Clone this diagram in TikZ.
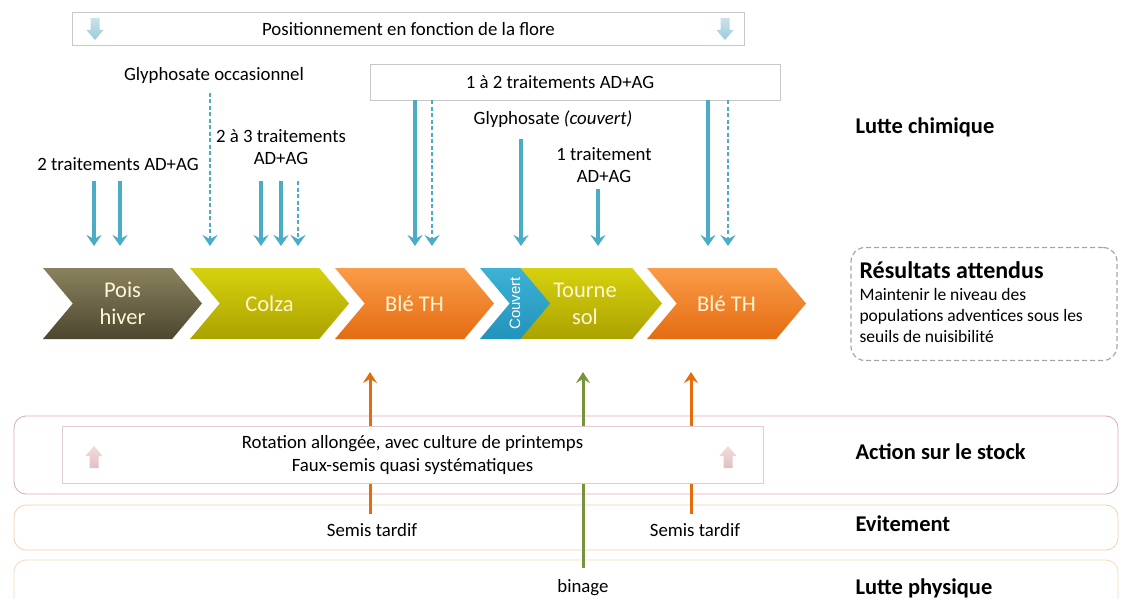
\documentclass[tikz,border=0pt]{standalone}
\usepackage{fontspec}
\setmainfont{Carlito}
\newfontfamily\couvertfont{Liberation Sans}
\usetikzlibrary{positioning,shapes.symbols,arrows.meta}

\definecolor{aqua}{HTML}{4BACC6}
\definecolor{orangeup}{HTML}{E46C0A}
\definecolor{vertup}{HTML}{77933C}
\definecolor{creme}{HTML}{FFF6D5}
\definecolor{grisbord}{HTML}{C8C8C8}
\definecolor{grispointille}{HTML}{A6A6A6}
\definecolor{bordstock}{HTML}{D9A9BA}
\definecolor{bordevit}{HTML}{F2CFAE}
\definecolor{bordphys}{HTML}{EEDDB8}
\definecolor{bordrot}{HTML}{E2CDD2}
\definecolor{iconebleu}{HTML}{9CCBDA}
\definecolor{iconerose}{HTML}{E3BFC2}
\definecolor{poishaut}{HTML}{8A825E}
\definecolor{poisbas}{HTML}{4C4630}
\definecolor{colzahaut}{HTML}{D6D20E}
\definecolor{colzabas}{HTML}{ABA200}
\definecolor{blehaut}{HTML}{FA9C48}
\definecolor{blebas}{HTML}{E46C12}
\definecolor{couverthaut}{HTML}{3DB2D4}
\definecolor{couvertbas}{HTML}{2293BC}

\begin{document}
\begin{tikzpicture}[x=1pt, y=-1pt,
font=\fontsize{18.8}{22.5}\selectfont,
culture/.style={signal, signal to=east, signal from=west, signal pointer angle=100,
  minimum height=71pt, minimum width=159pt, inner sep=0pt, text=creme,
  font=\fontsize{22.5}{27}\selectfont, align=center},
chem/.style={draw=aqua, line width=3.2pt, -{Stealth[length=11pt, width=15pt, inset=4pt]}},
chemopt/.style={chem, line width=2.6pt, dash pattern=on 4pt off 2.5pt},
stock/.style={draw=orangeup, line width=3pt, -{Stealth[length=11pt, width=14pt, inset=4pt]}},
binage/.style={stock, draw=vertup},
cadre/.style={rectangle, draw=grisbord, fill=white, line width=0.8pt},
bande/.style={rounded corners=12pt, line width=0.8pt},
titre/.style={font=\fontsize{22.5}{26}\selectfont\bfseries, anchor=west},
pics/iconebas/.style={code={\path[top color=#1!55, bottom color=#1] (-4.5,-11) -- (4.5,-11) -- (4.5,1) -- (8.5,1) -- (0,11) -- (-8.5,1) -- (-4.5,1) -- cycle;}},
pics/iconehaut/.style={code={\path[top color=#1!55, bottom color=#1] (-4.5,11) -- (4.5,11) -- (4.5,-1) -- (8.5,-1) -- (0,-11) -- (-8.5,-1) -- (-4.5,-1) -- cycle;}},
]
\useasboundingbox (0,0) rectangle (1122,599);

%Bandes du bas
\draw[bande, draw=bordstock] (14,416) rectangle (1118,494);
\draw[bande, draw=bordevit] (14,505) rectangle (1118,550);
\draw[bande, draw=bordphys] (14,560) rectangle (1118,625);

%Lutte chimique
\node[cadre, minimum width=672pt, minimum height=33pt] (flore) at (408.5,29) {Positionnement en fonction de la flore};
\pic at (95,29) {iconebas=iconebleu};
\pic at (725,29) {iconebas=iconebleu};
\node (glyocc) at (214,75) {Glyphosate occasionnel};
\node[cadre, minimum width=410pt, minimum height=36pt] (trait12) at (575,82) {\hspace*{-30pt}1 à 2 traitements AD+AG};
\node (t2) at (118,164) {2 traitements AD+AG};
\node (t23) [align=center] at (281,147) {2 à 3 traitements\\AD+AG};
\node (glycouv) at (553,119) {Glyphosate \textit{(couvert)}};
\node (t1) [align=center] at (604,165) {1 traitement\\AD+AG};
\node[titre] (lchim) at (852,127) {Lutte chimique};

%Cultures
\node[culture, top color=poishaut, bottom color=poisbas] (pois) at (122.5,303.5) {Pois\\hiver};
\node[culture, top color=colzahaut, bottom color=colzabas] (colza) at (269.5,303.5) {Colza};
\node[culture, top color=blehaut, bottom color=blebas] (ble1) at (414.5,303.5) {Blé TH};
\node[culture, minimum width=154pt, top color=colzahaut, bottom color=colzabas] (tsol) at (585,303.5) {Tourne\\sol};
\node[culture, minimum width=66pt, top color=couverthaut, bottom color=couvertbas, text=white] (couvert) at (515,303.5) {\rotatebox{90}{\couvertfont\fontsize{15}{15}\selectfont Couvert}};
\node[culture, top color=blehaut, bottom color=blebas] (ble2) at (726.5,303.5) {Blé TH};

%Fleches vers les cultures
\coordinate (e1) at (94,246);
\coordinate (e2) at (120,246);
\coordinate (e3) at (210,246);
\coordinate (e4) at (261,246);
\coordinate (e5) at (281,246);
\coordinate (e6) at (298,246);
\coordinate (e7) at (415,246);
\coordinate (e8) at (432,246);
\coordinate (e9) at (521,246);
\coordinate (e10) at (598,246);
\coordinate (e11) at (708,246);
\coordinate (e12) at (728,246);

\draw[chem, shorten <=7pt] (t2.south -| e1) -- (e1);
\draw[chem, shorten <=7pt] (t2.south -| e2) -- (e2);
\draw[chemopt, shorten <=6pt] (glyocc.south -| e3) -- (e3);
\draw[chem, shorten <=13pt] (t23.south -| e4) -- (e4);
\draw[chem, shorten <=13pt] (t23.south -| e5) -- (e5);
\draw[chemopt, shorten <=13pt] (t23.south -| e6) -- (e6);
\draw[chem] (trait12.south -| e7) -- (e7);
\draw[chemopt] (trait12.south -| e8) -- (e8);
\draw[chem, shorten <=8pt] (glycouv.south -| e9) -- (e9);
\draw[chem, shorten <=3pt] (t1.south -| e10) -- (e10);
\draw[chem] (trait12.south -| e11) -- (e11);
\draw[chemopt] (trait12.south -| e12) -- (e12);

%Resultats attendus
\node[draw=grispointille, dash pattern=on 5pt off 3pt, line width=1.2pt, rounded corners=14pt, minimum width=266pt, minimum height=113pt] (res) at (984,304) {};
\node[titre, font=\fontsize{24}{28}\selectfont\bfseries] (restitre) at (856,270) {Résultats attendus};
\node[font=\fontsize{17.5}{21}\selectfont, align=left] (restexte) [below=3pt of restitre.south west, anchor=north west] {Maintenir le niveau des\\populations adventices sous les\\seuils de nuisibilité};

%Lutte agronomique
\node (semis1) at (372,530) {Semis tardif};
\node (semis2) at (695,530) {Semis tardif};
\node (binage) at (583,588) {binage};
\coordinate (u1) at (370,372);
\coordinate (u2) at (583,372);
\coordinate (u3) at (691,372);

\draw[stock, shorten <=6pt] (semis1.north -| u1) -- (u1);
\draw[stock, shorten <=6pt] (semis2.north -| u3) -- (u3);
\draw[binage, shorten <=8pt] (binage.north) -- (u2);

\node[cadre, draw=bordrot, minimum width=701pt, minimum height=57pt, align=center, font=\fontsize{18.8}{23}\selectfont] (rot) at (412.5,454.5) {Rotation allongée, avec culture de printemps\\Faux-semis quasi systématiques};
\pic at (94,457) {iconehaut=iconerose};
\pic at (728,457) {iconehaut=iconerose};

\node[titre] (lstock) at (852,452) {Action sur le stock};
\node[titre] (levit) at (852,524) {Evitement};
\node[titre] (lphys) at (852,588) {Lutte physique};

\end{tikzpicture}
\end{document}
